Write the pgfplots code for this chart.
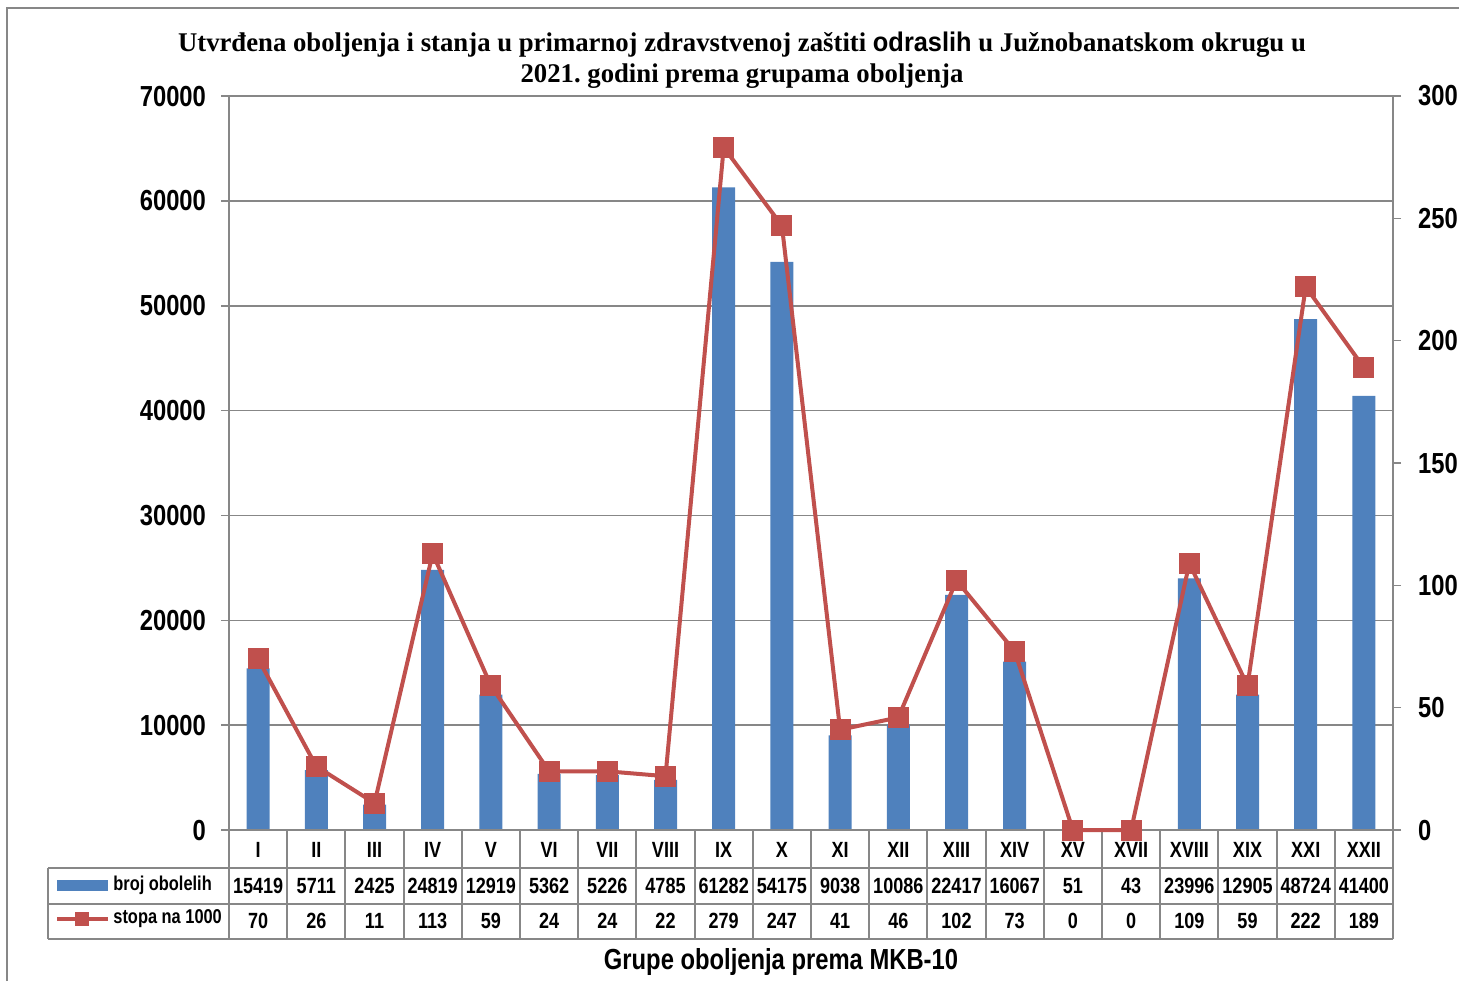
\documentclass[border=0pt]{standalone}
\usepackage{pgfplots}
\pgfplotsset{compat=1.18}
\usepackage{fontspec}
\setmainfont{Liberation Sans}
\newfontfamily\narrow[FakeStretch=0.82]{Liberation Sans}
\newfontfamily\titleserif[FakeStretch=0.99]{Liberation Serif}
\newfontfamily\titlesans[FakeStretch=0.94]{Liberation Sans}
\definecolor{barblue}{HTML}{4F81BD}
\definecolor{linered}{HTML}{C0504D}
\definecolor{gridgray}{HTML}{878787}
\frenchspacing
\begin{document}
\begin{tikzpicture}[x=0.5pt,y=-0.5pt]
\useasboundingbox (0,0) rectangle (1459,981);
\draw[gridgray, line width=1pt] (7,981) -- (7,8) -- (1459,8);
% bars
\begin{axis}[at={(114.5pt,-415pt)}, anchor=south west, scale only axis,
  width=582pt, height=367pt,
  xmin=-0.5, xmax=19.5, ymin=0, ymax=70000,
  ytick={0,10000,...,70000}, xtick=\empty, scaled y ticks=false,
  ymajorgrids, grid style={gridgray, line width=0.8pt},
  axis line style={draw=none},
  ytick pos=left, tick align=outside, major tick length=4pt,
  ytick style={gridgray, line width=0.8pt},
  yticklabel style={font=\narrow\bfseries\fontsize{14.5}{16}\selectfont, xshift=-4pt},
  /pgf/number format/.cd, fixed, 1000 sep={}, assume math mode=true]
\addplot[ybar, bar width=11.5pt, fill=barblue, draw=none] coordinates {
(0,15419) (1,5711) (2,2425) (3,24819) (4,12919) (5,5362) (6,5226) (7,4785)
(8,61282) (9,54175) (10,9038) (11,10086) (12,22417) (13,16067) (14,51)
(15,43) (16,23996) (17,12905) (18,48724) (19,41400)};
\end{axis}
% axis lines and table
\begin{scope}[gridgray, line width=1pt]
\draw (229,96) -- (229,939);
\draw (1393,96) -- (1393,939);
\draw (221,830) -- (1401,830);
\draw (48,868) -- (1393,868);
\draw (48,904) -- (1393,904);
\draw (48,939) -- (1393,939);
\draw (48,868) -- (48,939);
\foreach \k in {1,...,19} \draw ({229+58.2*\k},830) -- ({229+58.2*\k},939);
\end{scope}
\begin{scope}[font=\narrow\bfseries\fontsize{11}{13}\selectfont]
\foreach \lab [count=\i from 0] in {I,II,III,IV,V,VI,VII,VIII,IX,X,XI,XII,XIII,XIV,XV,XVII,XVIII,XIX,XXI,XXII}
  \node at ({229+58.2*(\i+0.5)},850) {\lab};
\foreach \v [count=\i from 0] in {15419,5711,2425,24819,12919,5362,5226,4785,61282,54175,9038,10086,22417,16067,51,43,23996,12905,48724,41400}
  \node at ({229+58.2*(\i+0.5)},886) {\v};
\foreach \v [count=\i from 0] in {70,26,11,113,59,24,24,22,279,247,41,46,102,73,0,0,109,59,222,189}
  \node at ({229+58.2*(\i+0.5)},921) {\v};
\end{scope}
\begin{scope}[font=\narrow\bfseries\fontsize{10}{12}\selectfont]
\fill[barblue] (57,880) rectangle (108,891);
\node[anchor=west, inner sep=0pt] at (113,885) {broj obolelih};
\draw[linered, line width=2pt] (57,919) -- (108,919);
\fill[linered] (75,912) rectangle (89,926);
\node[anchor=west, inner sep=0pt] at (113,919) {stopa na 1000};
\end{scope}
% line
\begin{axis}[at={(114.5pt,-415pt)}, anchor=south west, scale only axis,
  width=582pt, height=367pt, clip=false,
  xmin=-0.5, xmax=19.5, ymin=0, ymax=300,
  ytick={0,50,...,300}, xtick=\empty,
  axis line style={draw=none},
  ytick pos=right, tick align=outside, major tick length=4pt,
  ytick style={gridgray, line width=0.8pt},
  yticklabel style={font=\narrow\bfseries\fontsize{14.5}{16}\selectfont, xshift=5pt},
  /pgf/number format/.cd, 1000 sep={}, assume math mode=true]
\addplot[linered, line width=2pt, mark=square*, mark size=4.25pt, mark options={solid, fill=linered}] coordinates {
(0,70) (1,26) (2,11) (3,113) (4,59) (5,24) (6,24) (7,22) (8,279) (9,247)
(10,41) (11,46) (12,102) (13,73) (14,0) (15,0) (16,109) (17,59) (18,222) (19,189)};
\end{axis}
\node[align=center, font=\titleserif\bfseries\fontsize{13.5}{15.5}\selectfont] at (742,60)
  {Utvrđena oboljenja i stanja u primarnoj zdravstvenoj zaštiti {\titlesans\bfseries odraslih} u Južnobanatskom okrugu u\\2021. godini prema grupama oboljenja};
\node[font=\narrow\bfseries\fontsize{14.5}{16}\selectfont] at (781,962) {Grupe oboljenja prema MKB-10};
\end{tikzpicture}
\end{document}
